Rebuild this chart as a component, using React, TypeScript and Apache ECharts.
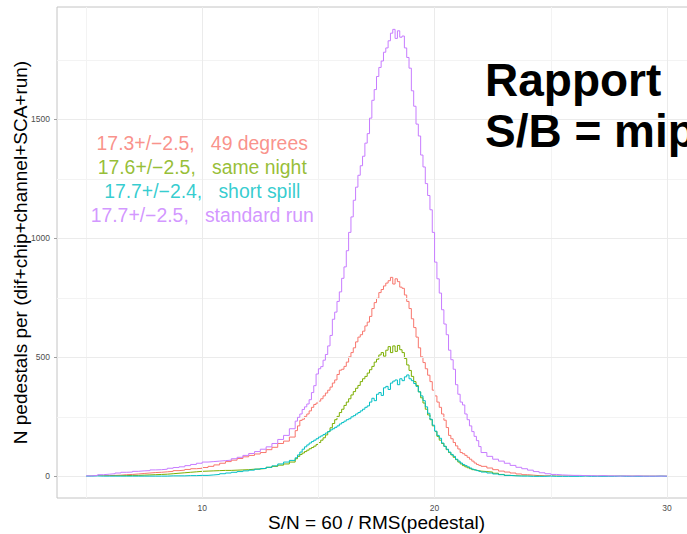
import { useEffect, useRef } from "react";
import * as echarts from "echarts";

const FONT = "'Liberation Sans', Arial, sans-serif";

const SERIES_NAMES = ["49 degrees", "same night", "short spill", "standard run"];
const SERIES_COLORS = ["#F8766D", "#7CAE00", "#00BFC4", "#C77CFF"];
const LEGEND_LABELS = [
  "17.3+/−2.5,   49 degrees",
  "17.6+/−2.5,   same night",
  "17.7+/−2.4,   short spill",
  "17.7+/−2.5,   standard run",
];
const LEGEND_X = 10;
const LEGEND_Y = [1400, 1300, 1200, 1100];

const X_TICKS = [10, 20, 30];
const X_MINOR = [5, 15, 25];
const Y_TICKS = [0, 500, 1000, 1500];
const Y_MINOR = [250, 750, 1250, 1750];

const X_TITLE = "S/N = 60 / RMS(pedestal)";
const Y_TITLE = "N pedestals per (dif+chip+channel+SCA+run)";
const SIDE_TEXT = ["Rapport", "S/B = mip"];

// histogram bins: [start, width, count]
const BIN_SEGMENTS = [
  [5, 0.25, 36],
  [14, 0.1, 80],
  [22, 0.25, 32],
];
const BIN_END = 30;

const RED = [
  0, 1, 2, 3, 4, 5, 7, 8, 10, 12, 14, 16, 17, 19, 21, 24, 26, 29, 32, 34, 37, 42, 48, 55, 62, 68, 75, 82, 88, 94, 100, 112, 122, 138, 148, 165,
  192, 212, 235, 240, 252, 262, 275, 290, 302, 308,
  316, 326, 338, 350, 362, 375, 392, 405, 428, 446,
  450, 462, 480, 502, 520, 540, 565, 585, 595, 610,
  632, 648, 672, 705, 730, 748, 772, 785, 800, 812,
  822, 836, 808, 830, 818, 795, 790, 762, 735, 705,
  662, 625, 585, 540, 502, 478, 452, 425, 398, 362,
  338, 312, 290, 262, 236, 205, 172, 158, 142, 128,
  115, 100, 95, 88, 80, 72, 64, 56, 50, 46,
  42, 35, 28, 22, 18, 14, 10, 7, 5, 3, 2, 2, 1, 1, 1, 1, 0, 1, 0, 0, 1, 0, 0, 0, 0, 0, 0, 0, 0, 0, 0, 0,
];

const GREEN = [
  0, 0, 1, 1, 2, 2, 3, 4, 4, 5, 6, 7, 8, 9, 11, 13, 15, 17, 19, 21, 22, 23, 24, 25, 25, 26, 27, 28, 30, 31, 33, 38, 42, 47, 52, 60,
  74, 84, 92, 98, 104, 110, 116, 121, 127, 134,
  142, 152, 162, 174, 188, 204, 222, 238, 252, 268,
  282, 298, 312, 326, 342, 356, 370, 382, 398, 410,
  420, 434, 448, 462, 480, 492, 510, 520, 505, 530,
  545, 520, 548, 525, 550, 532, 520, 495, 468, 445,
  420, 398, 382, 355, 330, 308, 282, 258, 238, 212,
  188, 168, 152, 138, 126, 112, 100, 90, 80, 70,
  60, 52, 45, 40, 36, 32, 28, 26, 24, 22,
  20, 18, 13, 8, 4, 2, 1, 1, 0, 1, 0, 0, 0, 0, 0, 0, 0, 0, 0, 0, 0, 0, 0, 0, 0, 0, 0, 0, 0, 0, 0, 0,
];

const CYAN = [
  1, 2, 1, 1, 1, 1, 1, 1, 1, 1, 1, 1, 1, 1, 2, 2, 2, 3, 3, 4, 4, 6, 8, 11, 14, 17, 20, 23, 26, 30, 33, 38, 44, 52, 60, 67,
  78, 90, 102, 114, 124, 132, 140, 146, 152, 158,
  165, 170, 176, 182, 188, 195, 200, 206, 212, 220,
  226, 232, 238, 242, 250, 255, 262, 268, 275, 282,
  290, 296, 312, 328, 318, 345, 352, 340, 372, 378,
  365, 392, 400, 405, 385, 410, 402, 418, 426, 410,
  402, 390, 378, 355, 338, 318, 292, 265, 240, 215,
  190, 172, 160, 140, 126, 114, 102, 92, 84, 72,
  64, 56, 50, 45, 40, 35, 30, 27, 24, 21,
  18, 14, 10, 7, 4, 2, 1, 1, 0, 0, 0, 1, 0, 0, 0, 0, 0, 1, 0, 0, 0, 0, 0, 1, 0, 0, 0, 0, 0, 0, 1, 0,
];

const PURPLE = [
  2, 4, 7, 9, 11, 14, 17, 18, 21, 23, 24, 27, 28, 30, 34, 37, 40, 45, 50, 55, 60, 62, 64, 66, 68, 74, 80, 88, 96, 104, 114, 124, 138, 155, 172, 200,
  232, 248, 262, 281, 292, 304, 322, 352, 381, 430,
  452, 461, 488, 512, 548, 592, 660, 690, 735, 775,
  832, 880, 948, 1025, 1090, 1160, 1215, 1265, 1305, 1345,
  1400, 1440, 1505, 1580, 1625, 1680, 1718, 1745, 1782, 1800,
  1830, 1862, 1878, 1840, 1872, 1845, 1850, 1800, 1760, 1715,
  1620, 1555, 1480, 1430, 1350, 1300, 1230, 1180, 1120, 1025,
  900, 830, 770, 700, 640, 595, 530, 490, 450, 385,
  345, 312, 300, 262, 238, 212, 188, 168, 150, 125,
  100, 84, 72, 64, 55, 46, 38, 32, 26, 20, 15, 11, 8, 6, 5, 4, 4, 3, 3, 2, 3, 2, 2, 1, 2, 1, 2, 1, 1, 1, 1, 1,
];

const SERIES_VALUES = [RED, GREEN, CYAN, PURPLE];

function binEdges(): number[] {
  const out: number[] = [];
  BIN_SEGMENTS.forEach(([start, w, n]) => {
    for (let i = 0; i < n; i++) out.push(Math.round((start + i * w) * 100) / 100);
  });
  return out;
}

export default function App() {
  const ref = useRef<HTMLDivElement>(null);
  useEffect(() => {
    if (!ref.current) return;
    const chart = echarts.init(ref.current, undefined, { renderer: "svg" });
    const edges = binEdges();
    const lineSeries = SERIES_VALUES.map((vals, si) => {
      const data = edges.map((x, i) => [x, vals[i]]);
      data.push([BIN_END, vals[vals.length - 1]]);
      return {
        type: "line",
        name: SERIES_NAMES[si],
        step: "end",
        showSymbol: false,
        symbol: "none",
        data,
        lineStyle: { color: SERIES_COLORS[si], width: 1 },
        itemStyle: { color: SERIES_COLORS[si] },
        z: 3 + si,
      };
    });

    const major = { color: "#ebebeb", width: 1, type: "solid" };
    const minor = { color: "#f3f3f3", width: 1, type: "solid" };
    const gridSeries = {
      type: "line",
      data: [],
      silent: true,
      z: 1,
      markLine: {
        silent: true,
        symbol: ["none", "none"],
        label: { show: false },
        emphasis: { disabled: true },
        data: [
          ...Y_MINOR.map((v) => ({ yAxis: v, lineStyle: minor })),
          ...X_MINOR.map((v) => ({ xAxis: v, lineStyle: minor })),
          ...Y_TICKS.map((v) => ({ yAxis: v, lineStyle: major })),
          ...X_TICKS.map((v) => ({ xAxis: v, lineStyle: major })),
        ],
      },
    };

    const labelSeries = {
      type: "scatter",
      symbolSize: 0,
      silent: true,
      z: 10,
      data: LEGEND_LABELS.map((t, i) => ({
        name: t,
        value: [LEGEND_X, LEGEND_Y[i]],
        label: { color: SERIES_COLORS[i] },
      })),
      label: {
        show: true,
        position: "inside",
        formatter: "{b}",
        fontSize: 19.4,
        fontFamily: FONT,
        align: "center",
        verticalAlign: "middle",
      },
    };

    chart.setOption({
      animation: false,
      backgroundColor: "#ffffff",
      grid: {
        left: 57,
        top: 7,
        right: -9,
        bottom: 36,
        outerBoundsMode: "none",
        containLabel: false,
        show: true,
        borderColor: "#c4c4c4",
        borderWidth: 1,
        backgroundColor: "transparent",
      },
      xAxis: {
        type: "value",
        min: 3.75,
        max: 31.25,
        name: X_TITLE,
        nameLocation: "middle",
        nameGap: 24,
        nameMoveOverlap: false,
        nameTextStyle: { fontSize: 19, color: "#000", fontFamily: FONT, verticalAlign: "middle" },
        axisLine: { show: false },
        axisTick: { show: true, customValues: X_TICKS, length: 3, lineStyle: { color: "#a0a0a0" } },
        axisLabel: {
          customValues: X_TICKS,
          fontSize: 8.5,
          color: "#4d4d4d",
          margin: 5,
          fontFamily: FONT,
          formatter: (v: number) => String(v),
        },
        splitLine: { show: false },
      },
      yAxis: {
        type: "value",
        min: -91,
        max: 1972,
        name: Y_TITLE,
        nameLocation: "middle",
        nameRotate: 90,
        nameGap: 37,
        nameMoveOverlap: false,
        nameTextStyle: { fontSize: 19, color: "#000", fontFamily: FONT, verticalAlign: "middle" },
        axisLine: { show: false },
        axisTick: { show: true, customValues: Y_TICKS, length: 3, lineStyle: { color: "#a0a0a0" } },
        axisLabel: {
          customValues: Y_TICKS,
          fontSize: 8.5,
          color: "#4d4d4d",
          margin: 7,
          fontFamily: FONT,
          formatter: (v: number) => String(v),
        },
        splitLine: { show: false },
      },
      graphic: [
        {
          type: "text",
          x: 485,
          y: 80,
          z: 100,
          style: { text: SIDE_TEXT[0], fill: "#000", font: `bold 46px ${FONT}`, verticalAlign: "middle" },
        },
        {
          type: "text",
          x: 485,
          y: 131,
          z: 100,
          style: { text: SIDE_TEXT[1], fill: "#000", font: `bold 46px ${FONT}`, verticalAlign: "middle" },
        },
      ],
      series: [gridSeries, ...lineSeries, labelSeries],
    });
    return () => chart.dispose();
  }, []);
  return (
    <div
      ref={ref}
      style={{ position: "fixed", left: 0, top: 0, width: 687, height: 534, background: "#fff" }}
    />
  );
}
